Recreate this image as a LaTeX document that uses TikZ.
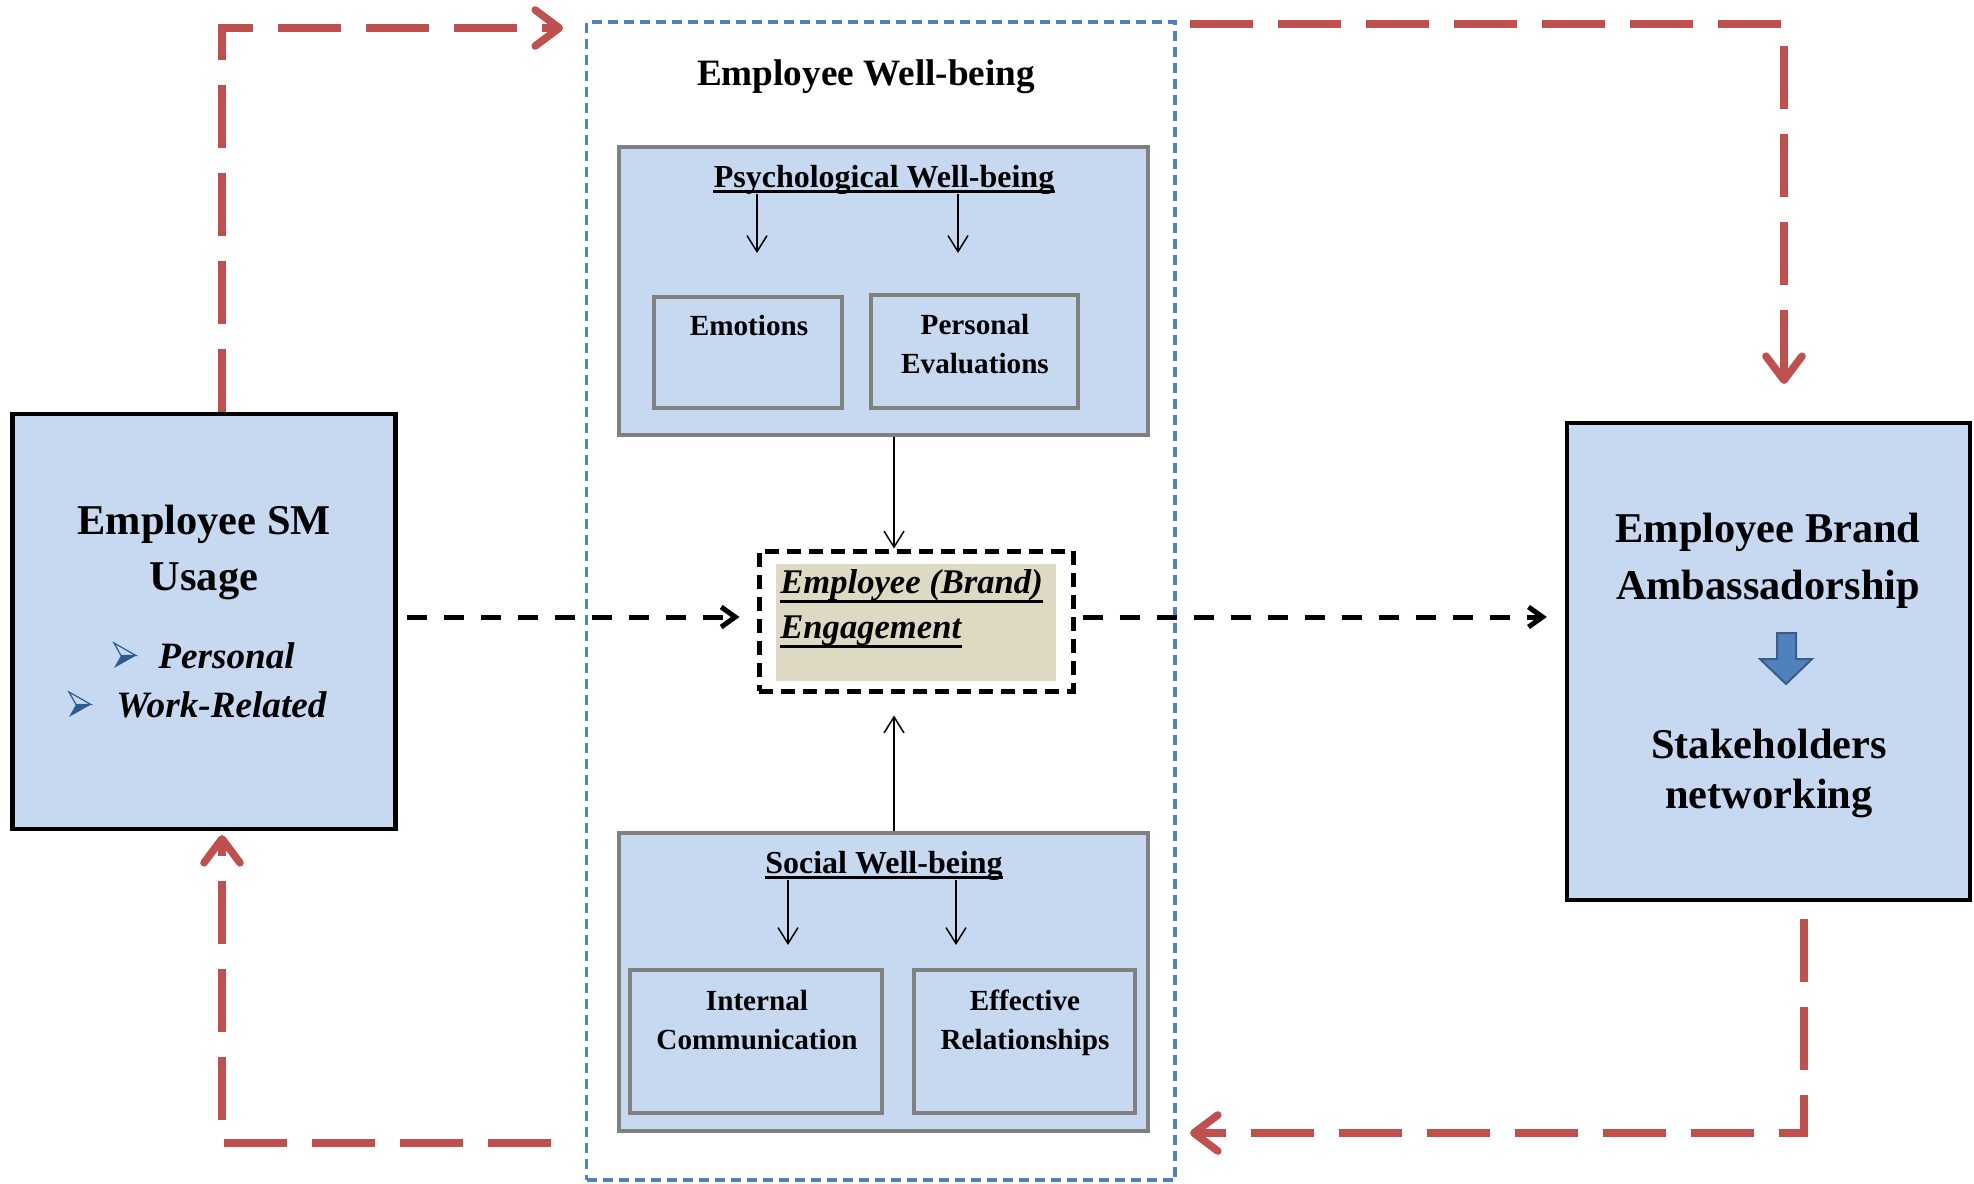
\documentclass[tikz,border=0pt]{standalone}
\usepackage{fontspec}
\setmainfont{Liberation Serif}
\usetikzlibrary{arrows.meta}

\definecolor{boxfill}{HTML}{C6D9F1}
\definecolor{boxgray}{HTML}{808080}
\definecolor{flowred}{HTML}{C0504D}
\definecolor{frameblue}{HTML}{4F81BD}
\definecolor{engbeige}{HTML}{DDD9C3}
\definecolor{bulletblue}{HTML}{2C5A91}
\definecolor{arrowblue}{HTML}{4F81BD}
\definecolor{arrowedge}{HTML}{385D8A}

\begin{document}
\begin{tikzpicture}[x=0.5pt,y=-0.5pt,
  panel/.style={rectangle, draw=black, line width=2.2pt, fill=boxfill, inner sep=0pt},
  grouppanel/.style={rectangle, draw=boxgray, line width=2pt, fill=boxfill, inner sep=0pt},
  frame/.style={rectangle, draw=frameblue, line width=1.6pt, dash pattern=on 5pt off 3pt, inner sep=0pt},
  engframe/.style={rectangle, draw=black, line width=2.5pt, dash pattern=on 7pt off 4pt, fill=white, inner sep=0pt},
  bigtext/.style={anchor=base, inner sep=0pt, font=\fontsize{21.2}{25}\selectfont\bfseries},
  titletext/.style={anchor=base, inner sep=0pt, font=\fontsize{18.6}{22}\selectfont\bfseries},
  headtext/.style={anchor=base, inner sep=0pt, font=\fontsize{16}{19}\selectfont\bfseries},
  celltext/.style={anchor=base, inner sep=0pt, font=\fontsize{14.6}{17}\selectfont\bfseries},
  itemtext/.style={anchor=base west, inner sep=0pt, font=\fontsize{18.6}{22}\selectfont\bfseries\itshape},
  engtext/.style={anchor=base west, inner sep=0pt, font=\fontsize{17.3}{20}\selectfont\bfseries\itshape},
  uline/.style={line width=1.5pt},
  redflow/.style={draw=flowred, line width=3.8pt, dash pattern=on 31.5pt off 12.5pt,
    -{Straight Barb[length=12pt,width=18pt,round]}},
  blackflow/.style={draw=black, line width=2.5pt, dash pattern=on 10pt off 8.5pt,
    -{Straight Barb[length=7pt,width=10pt]}},
  thinarrow/.style={draw=black, line width=0.75pt, -{Straight Barb[length=8pt,width=10pt]}},
  pics/bulletmark/.style={code={
    \fill[bulletblue] (7,12.5) -- (22,12.5) -- (0,25) -- cycle;
    \filldraw[fill=boxfill, draw=bulletblue, line width=0.6pt, line join=miter]
      (0,0) -- (22,12.5) -- (7,12.5) -- cycle;
  }}
]
\useasboundingbox (0,0) rectangle (1974,1183);

% ---- outer blocks ----
\node[panel, minimum width=191.5pt, minimum height=207.5pt] (smbox) at (204,621.5) {};
\node[panel, minimum width=201.5pt, minimum height=238.5pt] (ebabox) at (1768.5,661.5) {};

% ---- well-being frame ----
\node[frame, minimum width=294.25pt, minimum height=579pt] (wellbeing) at (880.75,601) {};
\node[titletext] (wbtitle) at (866,85) {Employee Well-being};

% psychological group
\node[grouppanel, minimum width=264.5pt, minimum height=144pt] (psych) at (883.5,291) {};
\node[grouppanel, minimum width=94pt, minimum height=55.5pt] (emotions) at (748,352.5) {};
\node[grouppanel, minimum width=103.5pt, minimum height=56.5pt] (perseval) at (974.5,351.5) {};
\node[headtext] (psyt) at (884,187) {Psychological Well-being};
\draw[uline] ([yshift=-2pt]psyt.base west) -- ([yshift=-2pt]psyt.base east);
\node[celltext] (emot) at (749,335) {Emotions};
\node[celltext] (pers1) at (975,334) {Personal};
\node[celltext] (pers2) at (975,373) {Evaluations};

% social group
\node[grouppanel, minimum width=264.5pt, minimum height=149pt] (social) at (883.5,982) {};
\node[grouppanel, minimum width=126pt, minimum height=71.5pt] (intcomm) at (756,1041.5) {};
\node[grouppanel, minimum width=110.5pt, minimum height=71.5pt] (effrel) at (1024.5,1041.5) {};
\node[headtext] (soct) at (884,873) {Social Well-being};
\draw[uline] ([yshift=-2.2pt]soct.base west) -- ([yshift=-2.2pt]soct.base east);
\node[celltext] (ic1) at (757,1010) {Internal};
\node[celltext] (ic2) at (757,1049) {Communication};
\node[celltext] (er1) at (1025,1010) {Effective};
\node[celltext] (er2) at (1025,1049) {Relationships};

% engagement
\node[engframe, minimum width=157pt, minimum height=70pt] (engage) at (916,621) {};
\fill[engbeige] (776,564) rectangle (1056,681);
\node[engtext] (eng1) at (780,593) {Employee (Brand)};
\node[engtext] (eng2) at (780,638) {Engagement};
\draw[uline] ([yshift=-4pt]eng1.base west) -- ([yshift=-4pt]eng1.base east);
\draw[uline] ([yshift=-4pt]eng2.base west) -- ([yshift=-4pt]eng2.base east);

% ---- texts of the outer blocks ----
\node[bigtext] (sm1) at (204,534) {Employee SM};
\node[bigtext] (sm2) at (204,590) {Usage};
\pic at (114,643) {bulletmark};
\node[itemtext] (it1) at (158,668) {Personal};
\pic at (69,692) {bulletmark};
\node[itemtext] (it2) at (116,717) {Work-Related};

\node[bigtext] (eb1) at (1768,542) {Employee Brand};
\node[bigtext] (eb2) at (1768,599) {Ambassadorship};
\filldraw[fill=arrowblue, draw=arrowedge, line width=1pt, line join=miter]
  (1777,633) -- (1796,633) -- (1796,659) -- (1812,659) -- (1786,684)
  -- (1760,659) -- (1777,659) -- cycle;
\node[bigtext] (eb3) at (1769,758) {Stakeholders};
\node[bigtext] (eb4) at (1769,808) {networking};

% ---- thin arrows inside the frame ----
\coordinate (ex) at (894,0);
\coordinate (pa1) at (757,253);
\coordinate (pa2) at (958,253);
\coordinate (sa1) at (788,945);
\coordinate (sa2) at (956,945);
\draw[thinarrow] (psyt.south -| pa1) -- (pa1);
\draw[thinarrow] (psyt.south -| pa2) -- (pa2);
\draw[thinarrow] (soct.south -| sa1) -- (sa1);
\draw[thinarrow] (soct.south -| sa2) -- (sa2);
\draw[thinarrow] (psych.south -| ex) -- (engage.north -| ex);
\draw[thinarrow, shorten >=11pt] (social.north -| ex) -- (engage.south -| ex);

% ---- dashed black flow through engagement ----
\coordinate (lane) at (0,617);
\draw[blackflow, shorten <=4.75pt, shorten >=8.5pt] (smbox.east |- lane) -- (engage.west |- lane);
\draw[blackflow, shorten <=3.5pt, shorten >=9pt] (engage.east |- lane) -- (ebabox.west |- lane);

% ---- red feedback loop ----
\coordinate (tlc) at (222,28);
\coordinate (tle) at (563,28);
\coordinate (trs) at (1190,24);
\coordinate (trc) at (1784,24);
\coordinate (tre) at (1784,384);
\coordinate (brs) at (1804,919);
\coordinate (brc) at (1804,1133);
\coordinate (bre) at (1190,1133);
\coordinate (bls) at (551,1143);
\coordinate (blc) at (222,1143);
\coordinate (ble) at (222,835);
\draw[redflow] (smbox.north -| tlc) -- (tlc) -- (tle);
\draw[redflow] (trs) -- (trc) -- (tre);
\draw[redflow] (brs) -- (brc) -- (bre);
\draw[redflow] (bls) -- (blc) -- (ble);
\end{tikzpicture}
\end{document}
